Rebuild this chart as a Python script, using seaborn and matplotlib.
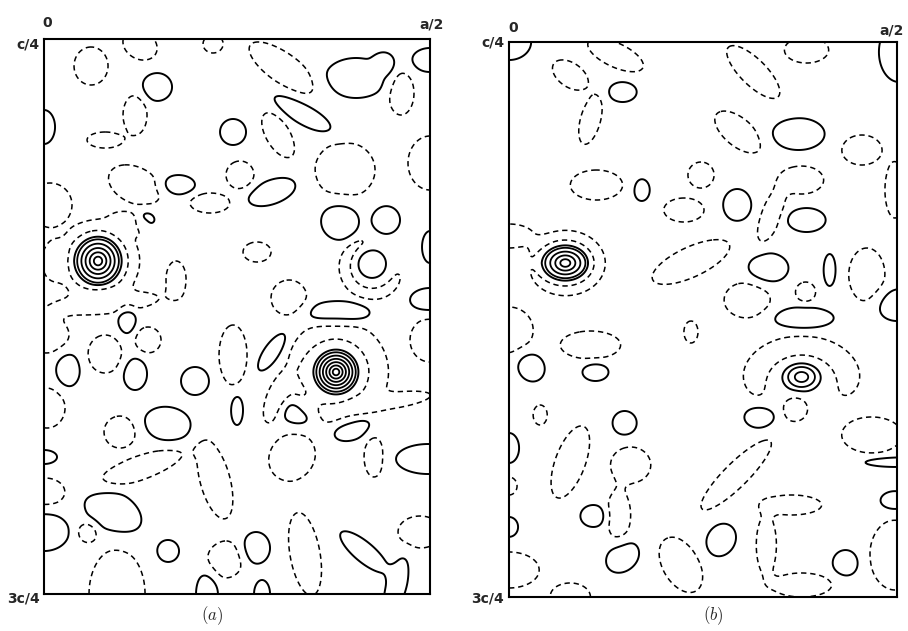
import numpy as np
import matplotlib.pyplot as plt
import seaborn as sns

sns.set_style("white")
plt.rcParams['mathtext.fontset'] = 'cm'

# map extent in drawing units (1 unit ~ 1 px of the original plate)
MAP_W, MAP_H = 386, 555

# peaks: x, y, rx, ry, number of contour levels
a_peaks = [(54, 222, 25, 26, 6), (292, 333, 23, 23, 7)]
b_peaks = [(56, 221, 25, 19, 5), (291, 335, 20, 15, 3)]

# positive regions (solid): x, y, rx, ry, tilt (deg)
a_pos = [
    (113, 48, 15, 14, 0), (0, 88, 11, 17, 0), (189, 93, 13, 13, 0),
    (312, 39, 31, 20, 0), (340, 24, 10, 10, 0), (386, 21, 18, 12, 0),
    (259, 75, 33, 10, 30), (134, 146, 17, 10, 0), (228, 153, 25, 12, -20),
    (102, 183, 10, 11, 0), (296, 182, 19, 19, 0), (342, 181, 14, 14, 0),
    (328, 225, 14, 14, 0), (386, 208, 8, 16, 0), (386, 261, 20, 12, 0),
    (294, 274, 32, 12, 0), (83, 281, 9, 14, 0), (24, 331, 12, 17, 0),
    (91, 335, 12, 16, 0), (151, 342, 14, 14, 0), (228, 313, 22, 8, -55),
    (193, 371, 6, 15, 0), (256, 373, 18, 14, 0), (308, 389, 20, 12, -20),
    (124, 385, 24, 17, 10), (0, 418, 13, 7, 0), (384, 420, 32, 15, 0),
    (69, 473, 31, 20, 30), (0, 493, 25, 19, 0), (124, 512, 11, 11, 0),
    (212, 509, 14, 16, 0), (163, 555, 11, 22, 0), (218, 555, 8, 14, 0),
    (320, 513, 30, 10, 40), (352, 548, 10, 30, 15),
]

# negative regions (dashed)
a_neg = [
    (47, 27, 17, 19, 0), (96, 6, 18, 14, 30), (169, 5, 10, 9, 0),
    (91, 76, 12, 20, 0), (61, 101, 18, 8, 0), (239, 29, 40, 15, 35),
    (234, 96, 25, 12, 60), (357, 54, 13, 22, 0), (386, 124, 22, 27, 0),
    (301, 131, 30, 28, 0), (91, 146, 28, 18, 25), (196, 136, 14, 14, 0),
    (166, 164, 20, 10, 0), (6, 166, 22, 22, 0), (88, 185, 22, 10, 20),
    (213, 213, 14, 10, 0), (245, 259, 18, 18, 0), (10, 222, 12, 20, 0),
    (60, 264, 55, 11, -5), (132, 240, 10, 18, 0), (3, 296, 22, 18, 0),
    (61, 315, 17, 19, 0), (104, 301, 13, 13, 0), (189, 316, 14, 30, 0),
    (386, 301, 20, 22, 0), (232, 360, 10, 25, 20), (3, 369, 18, 20, 0),
    (76, 393, 16, 16, 0), (96, 429, 45, 12, -20), (171, 441, 15, 40, -15),
    (248, 418, 22, 25, 40), (330, 418, 10, 20, 0), (1, 453, 20, 14, 0),
    (43, 493, 10, 10, 0), (73, 555, 28, 45, 0), (181, 521, 18, 18, 0),
    (261, 515, 15, 42, -10), (376, 493, 22, 16, 0), (345, 362, 42, 8, -8),
]

# negative moats hugging a feature: x, y, rx, ry, half width, direction, half span
a_moats = [
    (54, 222, 35, 35, 0.2, 0, 180), (292, 333, 42, 42, 0.25, 0, 180),
    (328, 228, 27, 27, 0.22, 135, 120),
]

b_pos = [
    (0, 0, 22, 18, 0), (113, 50, 14, 10, 0), (388, 10, 20, 30, 0),
    (288, 92, 26, 16, 0), (132, 148, 8, 11, 0), (227, 163, 14, 16, 0),
    (296, 178, 19, 12, 0), (258, 226, 20, 15, 0), (319, 228, 6, 16, 0),
    (386, 263, 20, 16, 0), (293, 276, 30, 11, 0), (22, 325, 13, 15, -30),
    (86, 330, 13, 9, 0), (249, 375, 15, 11, 0), (115, 381, 12, 12, 0),
    (0, 406, 10, 15, 0), (384, 420, 32, 5, 0), (384, 459, 15, 10, 0),
    (84, 474, 13, 11, 0), (0, 485, 9, 10, 0), (211, 498, 14, 17, 30),
    (113, 515, 18, 14, -40), (335, 521, 13, 13, 0),
]

b_neg = [
    (0, 444, 8, 9, 0), (106, 13, 30, 12, 25), (61, 33, 20, 12, 35),
    (81, 78, 10, 25, 15), (243, 30, 35, 13, 45), (296, 8, 22, 13, 0),
    (228, 90, 28, 14, 40), (351, 108, 20, 15, 0), (384, 148, 10, 28, 0),
    (87, 143, 26, 15, 0), (191, 133, 13, 13, 0), (174, 168, 20, 12, 0),
    (291, 138, 22, 14, 0), (261, 173, 10, 28, 20), (0, 194, 25, 12, 0),
    (181, 220, 42, 15, -25), (237, 258, 23, 18, 0), (295, 250, 10, 10, 0),
    (356, 233, 18, 27, 0), (0, 288, 24, 23, 0), (81, 303, 30, 14, 0),
    (181, 290, 7, 11, 0), (285, 367, 12, 12, 0), (31, 373, 7, 10, 0),
    (61, 420, 15, 38, 20), (121, 423, 20, 18, 0), (109, 473, 12, 25, 0),
    (226, 433, 48, 12, -45), (361, 393, 30, 18, 0), (281, 463, 30, 10, 0),
    (256, 503, 10, 30, 0), (291, 543, 30, 12, 0), (384, 513, 25, 35, 0),
    (0, 528, 30, 18, 0), (61, 555, 20, 14, 0), (171, 523, 18, 30, -30),
]

b_moats = [
    (56, 221, 33, 27, 0.22, 0, 180), (291, 338, 46, 34, 0.3, 270, 110),
]


def blob_field(X, Y, blobs, amp):
    f = np.zeros_like(X)
    for x0, y0, rx, ry, ang in blobs:
        t = np.deg2rad(ang)
        dx, dy = X - x0, Y - y0
        u = (dx * np.cos(t) + dy * np.sin(t)) / rx
        v = (-dx * np.sin(t) + dy * np.cos(t)) / ry
        e2 = u ** 2 + v ** 2
        f += amp * np.exp(-np.log(abs(amp)) * e2 ** 1.5)
    return f


def moat_field(X, Y, moats):
    f = np.zeros_like(X)
    for x0, y0, rx, ry, w, direc, span in moats:
        dx, dy = X - x0, Y - y0
        e = np.sqrt((dx / rx) ** 2 + (dy / ry) ** 2)
        th = np.degrees(np.arctan2(dy, dx))
        d = (th - direc + 180) % 360 - 180
        wt = np.exp(-np.log(2) * (np.abs(d) / span) ** 6)
        f += -2 * wt * np.exp(-np.log(2) * ((e - 1) / w) ** 2)
    return f


def peak_field(X, Y, peaks):
    f = np.zeros_like(X)
    for x0, y0, rx, ry, n in peaks:
        e = np.sqrt(((X - x0) / rx) ** 2 + ((Y - y0) / ry) ** 2)
        f += np.where(e <= 1, 1 + n * (1 - e), np.exp(-4 * (e - 1)))
    return f


def draw_map(ax, pos, neg, moats, peaks):
    xs = np.arange(0, MAP_W + 1, 1.0)
    ys = np.arange(0, MAP_H + 1, 1.0)
    X, Y = np.meshgrid(xs, ys)
    pk = peak_field(X, Y, peaks)
    F = blob_field(X, Y, pos, 2.0) + blob_field(X, Y, neg, -2.0) + moat_field(X, Y, moats) + pk
    ax.contour(X, Y, F, levels=[1], colors='black', linewidths=1.4)
    ax.contour(X, Y, F, levels=[-1], colors='black', linewidths=1.1,
               linestyles=[(0, (3.5, 2.5))])
    nmax = max(p[4] for p in peaks)
    ax.contour(X, Y, pk, levels=np.arange(2, nmax + 1), colors='black', linewidths=1.3)
    ax.set_xlim(0, MAP_W)
    ax.set_ylim(MAP_H, 0)
    ax.set_xticks([])
    ax.set_yticks([])
    for s in ax.spines.values():
        s.set_visible(True)
        s.set_color('black')
        s.set_linewidth(1.5)


fig = plt.figure(figsize=(9.08, 6.31), dpi=100)
ax_a = fig.add_axes([0.0485, 0.0586, 0.4251, 0.8796])
ax_b = fig.add_axes([0.5606, 0.0539, 0.4273, 0.8795])
draw_map(ax_a, a_pos, a_neg, a_moats, a_peaks)
draw_map(ax_b, b_pos, b_neg, b_moats, b_peaks)


def lab(x, y, s, **kw):
    fig.text(x / 908, 1 - y / 631, s, ha='center', va='center', **kw)


lbl = dict(fontsize=10, fontweight='bold')
lab(47, 23, "0", **lbl)
lab(28, 45, "c/4", **lbl)
lab(432, 25, "a/2", **lbl)
lab(23, 598, "3c/4", **lbl)
lab(513, 28, "0", **lbl)
lab(493, 43, "c/4", **lbl)
lab(892, 30, "a/2", **lbl)
lab(487, 598, "3c/4", **lbl)
lab(212, 616, r"$(a)$", fontsize=12)
lab(713, 616, r"$(b)$", fontsize=12)

fig.savefig("out.png", dpi=100)
